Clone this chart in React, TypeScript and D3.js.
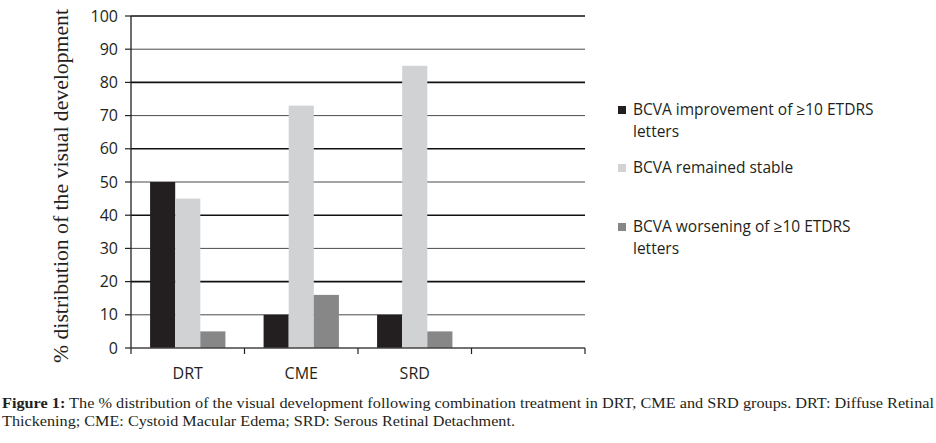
import React from 'react';
import { scaleBand, scaleLinear } from 'd3';

const categories = ['DRT', 'CME', 'SRD', ''];
const seriesNames = [
  ['BCVA improvement of ≥10 ETDRS', 'letters'],
  ['BCVA remained stable'],
  ['BCVA worsening of ≥10 ETDRS', 'letters'],
];
const improved = [50, 10, 10, null];
const stable = [45, 73, 85, null];
const worsened = [5, 16, 5, null];
const yTicks = [0, 10, 20, 30, 40, 50, 60, 70, 80, 90, 100];

const colors = ['#231f20', '#d1d2d4', '#878787'];
const sans = '"Open Sans", "Liberation Sans", sans-serif';
const serif = '"Liberation Serif", "DejaVu Serif", serif';

export default function App() {
  const series = [improved, stable, worsened];
  const x = scaleBand<string>().domain(categories).range([131, 585]);
  const inner = scaleBand<number>()
    .domain([0, 1, 2])
    .range([0, x.bandwidth()])
    .paddingOuter(0.76)
    .paddingInner(0);
  const y = scaleLinear().domain([0, 100]).range([348, 16]);

  const legendY = [110, 168, 227];

  return (
    <svg
      width={936}
      height={443}
      style={{ position: 'absolute', left: 0, top: 0, background: '#fff' }}
    >
      {/* grid lines */}
      {yTicks.slice(1).map((t, i) => (
        <line
          key={t}
          x1={131}
          x2={585}
          y1={y(t)}
          y2={y(t)}
          stroke={i % 2 === 0 ? '#4a4a4a' : '#111'}
          strokeWidth={i % 2 === 0 ? 1 : 1.6}
        />
      ))}

      {/* bars */}
      {series.map((vals, s) =>
        vals.map((v, c) =>
          v == null ? null : (
            <rect
              key={`${s}-${c}`}
              x={(x(categories[c]) ?? 0) + (inner(s) ?? 0)}
              y={y(v)}
              width={inner.bandwidth()}
              height={y(0) - y(v)}
              fill={colors[s]}
            />
          )
        )
      )}

      {/* y axis */}
      <line x1={131} x2={131} y1={16} y2={348} stroke="#231f20" strokeWidth={1.3} />
      {yTicks.map(t => (
        <g key={t}>
          <line x1={125} x2={131} y1={y(t)} y2={y(t)} stroke="#231f20" strokeWidth={1.2} />
          <text
            x={118}
            y={y(t)}
            dy="0.35em"
            textAnchor="end"
            fontFamily={sans}
            fontSize={16}
            fill="#231f20"
          >
            {t}
          </text>
        </g>
      ))}

      {/* x axis */}
      <line x1={131} x2={585} y1={348} y2={348} stroke="#444" strokeWidth={1.3} />
      {categories.map(c => (
        <line
          key={`t-${c}`}
          x1={x(c)}
          x2={x(c)}
          y1={348}
          y2={354}
          stroke="#231f20"
          strokeWidth={1.2}
        />
      ))}
      <line x1={585} x2={585} y1={348} y2={354} stroke="#231f20" strokeWidth={1.2} />
      {categories.map(c => (
        <text
          key={`l-${c}`}
          x={(x(c) ?? 0) + x.bandwidth() / 2}
          y={373}
          dy="0.35em"
          textAnchor="middle"
          fontFamily={sans}
          fontSize={16}
          fill="#231f20"
        >
          {c}
        </text>
      ))}

      {/* y title */}
      <text
        transform="translate(68,186) rotate(-90)"
        textAnchor="middle"
        fontFamily={serif}
        fontSize={20}
        fill="#231f20"
        textLength={354}
        lengthAdjust="spacingAndGlyphs"
      >
        % distribution of the visual development
      </text>

      {/* legend */}
      {seriesNames.map((lines, i) => (
        <g key={i}>
          <rect x={618} y={legendY[i] - 4} width={8} height={8} fill={colors[i]} />
          {lines.map((l, j) => (
            <text
              key={j}
              x={633}
              y={legendY[i] + j * 22}
              dy="0.35em"
              fontFamily={sans}
              fontSize={15.5}
              fill="#231f20"
            >
              {l}
            </text>
          ))}
        </g>
      ))}

      {/* caption */}
      <text
        x={2}
        y={408}
        fontFamily={serif}
        fontSize={15}
        fill="#231f20"
        textLength={932}
        lengthAdjust="spacingAndGlyphs"
      >
        <tspan fontWeight="bold">Figure 1:</tspan> The % distribution of the visual development
        following combination treatment in DRT, CME and SRD groups. DRT: Diffuse Retinal
      </text>
      <text
        x={2}
        y={426}
        fontFamily={serif}
        fontSize={15}
        fill="#231f20"
        textLength={513}
        lengthAdjust="spacingAndGlyphs"
      >
        Thickening; CME: Cystoid Macular Edema; SRD: Serous Retinal Detachment.
      </text>
    </svg>
  );
}
